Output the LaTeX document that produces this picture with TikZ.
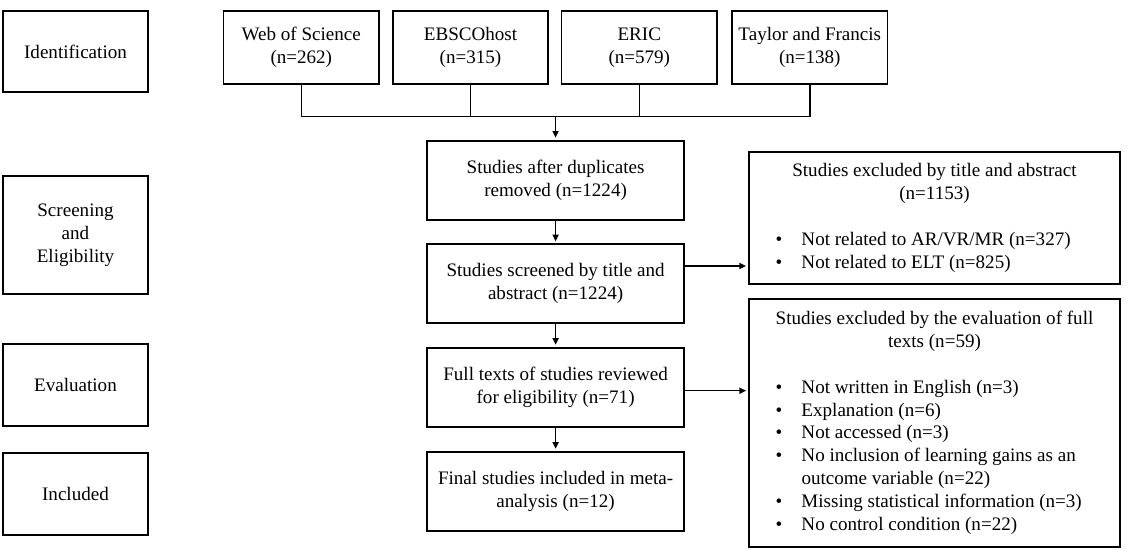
\documentclass[tikz,border=0pt]{standalone}
\usepackage{fontspec}
\setmainfont{Liberation Serif}
\usetikzlibrary{arrows.meta,calc}
\begin{document}
\begin{tikzpicture}[x=0.75pt,y=-0.75pt,
  txt/.style={font=\fontsize{14.3}{17.1}\selectfont},
  box/.style={draw=black,line width=1.4pt,rectangle,inner sep=0pt,align=center,txt},
  stage/.style={box,minimum width=145*0.75pt},
  src/.style={box,minimum width=155.5*0.75pt,minimum height=73*0.75pt},
  flow/.style={box,minimum width=257.6*0.75pt,minimum height=79*0.75pt},
  exbox/.style={box,minimum width=371*0.75pt},
  conn/.style={line width=1.1pt,draw=black},
  arr/.style={conn,-{Triangle[length=5pt,width=4.5pt]},shorten >=1.5pt}
]
\useasboundingbox (0,0) rectangle (1140,550);

% stage labels
\node[stage,minimum height=81*0.75pt]  (ident) at (75.5,51.5) {Identification};
\node[stage,minimum height=118*0.75pt] (screen) at (75.5,235) {Screening\\and\\Eligibility};
\node[stage,minimum height=82*0.75pt]  (evalu) at (75.5,385) {Evaluation};
\node[stage,minimum height=82*0.75pt]  (incl) at (75.5,494) {Included};

% sources
\node[src] (wos) at (301.3,47.5) {Web of Science\\(n=262)};
\node[src] (eb)  at (470.5,47.5) {EBSCOhost\\(n=315)};
\node[src] (er)  at (639.3,47.5) {ERIC\\(n=579)};
\node[src] (tf)  at (809.8,47.5) {Taylor and Francis\\(n=138)};

% main flow
\node[flow] (dup)   at (555.6,180.1) {Studies after duplicates\\removed (n=1224)};
\node[flow] (scr)   at (555.6,283.8) {Studies screened by title and\\abstract (n=1224)};
\node[flow] (full)  at (555.6,387.2) {Full texts of studies reviewed\\for eligibility (n=71)};
\node[flow] (final) at (555.6,491.2) {Final studies included in meta-\\analysis (n=12)};

% exclusion boxes
\node[exbox,minimum height=132.3*0.75pt] (ex1) at (934.5,217.9) {%
\begin{tabular}{@{\hspace{19.875pt}}p{19.5pt}@{}p{238.875pt}@{}}
\multicolumn{2}{@{}c@{}}{Studies excluded by title and abstract}\\
\multicolumn{2}{@{}c@{}}{(n=1153)}\\
 & \\
\textbullet & Not related to AR/VR/MR (n=327)\\
\textbullet & Not related to ELT (n=825)
\end{tabular}};

\node[exbox,minimum height=247.4*0.75pt] (ex2) at (934.5,423) {%
\begin{tabular}{@{\hspace{19.875pt}}p{19.5pt}@{}p{238.875pt}@{}}
\multicolumn{2}{@{}c@{}}{Studies excluded by the evaluation of full}\\
\multicolumn{2}{@{}c@{}}{texts (n=59)}\\
 & \\
\textbullet & Not written in English (n=3)\\
\textbullet & Explanation (n=6)\\
\textbullet & Not accessed (n=3)\\
\textbullet & No inclusion of learning gains as an\\
 & outcome variable (n=22)\\
\textbullet & Missing statistical information (n=3)\\
\textbullet & No control condition (n=22)
\end{tabular}};

% connectors
\coordinate (j) at (555.6,116.7);
\coordinate (a1) at (715,266);
\coordinate (a2) at (715,390.7);
\draw[conn] (wos.south) |- (tf.south |- j) -- (tf.south);
\draw[conn] (eb.south) -- (eb.south |- j);
\draw[conn] (er.south) -- (er.south |- j);
\draw[arr] (j) -- (dup.north);
\draw[arr] (dup.south) -- (scr.north);
\draw[arr] (scr.south) -- (full.north);
\draw[arr] (full.south) -- (final.north);
\draw[arr] (scr.east |- a1) -- (ex1.west |- a1);
\draw[arr] (full.east |- a2) -- (ex2.west |- a2);
\end{tikzpicture}
\end{document}
